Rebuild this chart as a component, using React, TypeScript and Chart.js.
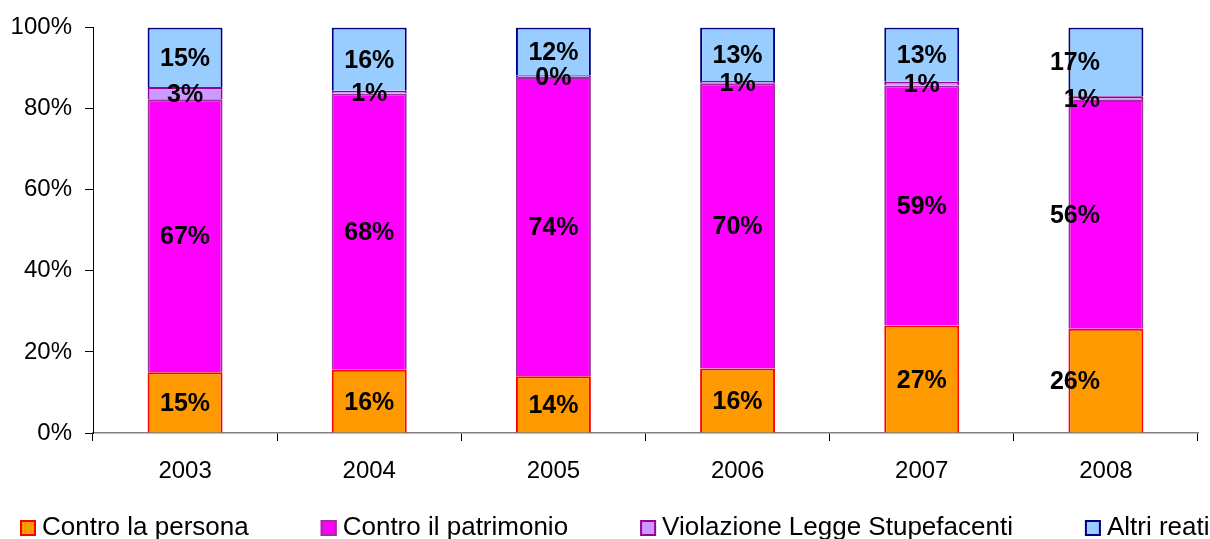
import React, { useEffect, useRef } from 'react';
import { Chart, registerables } from 'chart.js';

Chart.register(...registerables);

const years = ['2003', '2004', '2005', '2006', '2007', '2008'];
const seriesNames = ['Contro la persona', 'Contro il patrimonio', 'Violazione Legge Stupefacenti', 'Altri reati'];
const controPersona = [15.0, 15.6, 14.0, 15.9, 26.5, 25.7];
const controPatrimonio = [67.3, 68.1, 73.8, 70.3, 59.2, 56.4];
const violazioneStupefacenti = [3.0, 0.7, 0.4, 0.6, 0.9, 0.9];
const altriReati = [14.7, 15.6, 11.8, 13.2, 13.4, 17.0];
const yTickValues = [0, 20, 40, 60, 80, 100];

const FONT = '"Liberation Sans", Arial, sans-serif';
const fills = ['#FF9900', '#FF00FF', '#CC99FF', '#99CCFF'];
const borders = ['#FF0000', '#993399', '#990099', '#000080'];
// the last category's labels sit to the left of their bar in the original
const shiftedLabelCategory = 5;

const dataLabelPlugin = {
  id: 'dataLabels',
  afterDatasetsDraw(chart: any) {
    const ctx = chart.ctx;
    ctx.save();
    const size = 25;
    ctx.font = `bold ${size}px ${FONT}`;
    ctx.fillStyle = '#000';
    ctx.textBaseline = 'alphabetic';
    chart.data.datasets.forEach((ds: any, di: number) => {
      const meta = chart.getDatasetMeta(di);
      meta.data.forEach((bar: any, i: number) => {
        const v = ds.data[i];
        const txt = Math.round(v) + '%';
        const cy = (bar.y + bar.base) / 2;
        let x = bar.x;
        if (i === shiftedLabelCategory) {
          ctx.textAlign = 'right';
          x = bar.x - 6;
        } else {
          ctx.textAlign = 'center';
        }
        ctx.fillText(txt, x, cy + size * 0.34);
      });
    });
    ctx.restore();
  },
};

const legendPlugin = {
  id: 'customLegend',
  afterDraw(chart: any) {
    const ctx = chart.ctx;
    ctx.save();
    ctx.font = `26px ${FONT}`;
    ctx.textBaseline = 'alphabetic';
    ctx.textAlign = 'left';
    let x = 20;
    const boxTop = 520;
    chart.data.datasets.forEach((ds: any) => {
      ctx.fillStyle = ds.backgroundColor;
      ctx.fillRect(x, boxTop, 16, 16);
      ctx.strokeStyle = ds.borderColor;
      ctx.lineWidth = 2;
      ctx.strokeRect(x + 1, boxTop + 1, 14, 14);
      x += 22;
      ctx.fillStyle = '#000';
      ctx.fillText(ds.label, x, 535);
      x += ctx.measureText(ds.label).width + 72;
    });
    ctx.restore();
  },
};

export default function App() {
  const ref = useRef<HTMLCanvasElement | null>(null);
  useEffect(() => {
    if (!ref.current) return;
    const seriesData = [controPersona, controPatrimonio, violazioneStupefacenti, altriReati];
    const chart = new Chart(ref.current, {
      type: 'bar',
      data: {
        labels: years,
        datasets: seriesNames.map((name, k) => ({
          label: name,
          data: seriesData[k],
          backgroundColor: fills[k],
          borderColor: borders[k],
          borderWidth: 2,
          barPercentage: 0.407,
          categoryPercentage: 1,
        })),
      },
      options: {
        responsive: false,
        animation: false,
        layout: { padding: { top: 25, right: 12, left: 0, bottom: 0 } },
        plugins: { legend: { display: false }, tooltip: { enabled: false } },
        scales: {
          x: {
            stacked: true,
            offset: true,
            afterFit: (s: any) => { s.height = 106; },
            grid: { display: true, drawOnChartArea: false, drawTicks: true, tickLength: 8, color: '#000', offset: true },
            border: { display: true, color: '#808080', width: 1.5 },
            ticks: { color: '#000', font: { family: FONT, size: 24 }, padding: 16 },
          },
          y: {
            stacked: true,
            min: 0,
            max: 100,
            afterFit: (s: any) => { s.width = 93; },
            afterBuildTicks: (s: any) => { s.ticks = yTickValues.map((v) => ({ value: v })); },
            grid: { display: true, drawOnChartArea: false, drawTicks: true, tickLength: 8, color: '#000' },
            border: { display: true, color: '#000', width: 1 },
            ticks: { color: '#000', font: { family: FONT, size: 24 }, padding: 13, callback: (v: any) => v + '%' },
          },
        },
      },
      plugins: [dataLabelPlugin, legendPlugin],
    });
    return () => chart.destroy();
  }, []);
  return (
    <div style={{ position: 'fixed', left: 0, top: 0, width: 1210, height: 539, background: '#fff' }}>
      <canvas ref={ref} width={1210} height={539} />
    </div>
  );
}
